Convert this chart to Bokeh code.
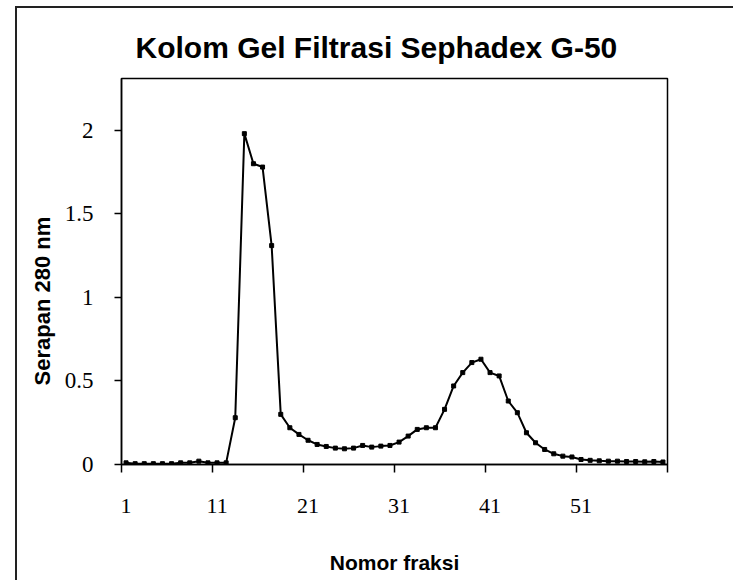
from bokeh.plotting import figure
from bokeh.models import Range1d, FixedTicker, Title, InlineStyleSheet
from bokeh.embed import file_html
from bokeh.resources import INLINE

# ---- data ----
fractions = list(range(1, 61))
absorbance = [
    0.010, 0.005, 0.005, 0.005, 0.005, 0.005, 0.010, 0.010, 0.020, 0.010,
    0.010, 0.010, 0.280, 1.980, 1.800, 1.780, 1.310, 0.300, 0.220, 0.180,
    0.145, 0.120, 0.108, 0.098, 0.094, 0.098, 0.114, 0.104, 0.110, 0.114,
    0.134, 0.170, 0.210, 0.220, 0.220, 0.330, 0.470, 0.550, 0.610, 0.630,
    0.550, 0.530, 0.380, 0.310, 0.190, 0.130, 0.090, 0.064, 0.050, 0.045,
    0.030, 0.025, 0.022, 0.020, 0.020, 0.018, 0.018, 0.016, 0.018, 0.015,
]
y_ticks = [0, 0.5, 1, 1.5, 2]
y_tick_labels = ["0", "0.5", "1", "1.5", "2"]
x_label_ticks = [1, 11, 21, 31, 41, 51]
x_tick_marks = [0.5, 10.5, 20.5, 30.5, 40.5, 50.5, 60.5]

title_text = "Kolom Gel Filtrasi Sephadex G-50"
x_title = "Nomor fraksi"
y_title = "Serapan 280 nm"

p = figure(
    width=733, height=580,
    output_backend="svg", toolbar_location=None,
    x_range=Range1d(0.5, 60.5), y_range=Range1d(0, 2.31),
    min_border_left=121, min_border_right=66,
    min_border_top=78, min_border_bottom=116,
    background_fill_color="white", border_fill_color="white",
)

# outer chart-area border (top and left edges, as in the scan)
p.stylesheets = [InlineStyleSheet(css="""
:host::before {
  content: "";
  position: absolute;
  left: 15px; top: 6px; right: 0px; bottom: 0px;
  border-left: 2px solid #222;
  border-top: 2px solid #222;
  pointer-events: none;
  z-index: 5;
}
""")]

p.title.text = title_text
p.title.align = "left"
p.title.offset = 14
p.title.text_font = "Liberation Sans"
p.title.text_font_style = "bold"
p.title.text_font_size = "30px"
p.title.text_color = "black"
p.title.standoff = 29

p.xgrid.visible = False
p.ygrid.visible = False
p.outline_line_color = "black"
p.outline_line_width = 1.5
p.outline_line_alpha = 1.0

# x axis: labels centred on categories, tick marks on category boundaries
xa = p.xaxis[0]
xa.ticker = FixedTicker(ticks=x_label_ticks, minor_ticks=x_tick_marks)
xa.major_tick_out = 0
xa.major_tick_in = 0
xa.minor_tick_out = 8
xa.minor_tick_in = 0
xa.minor_tick_line_color = "black"
xa.minor_tick_line_width = 1.5
xa.axis_line_color = "black"
xa.axis_line_width = 1.5
xa.major_label_text_font = "Liberation Serif"
xa.major_label_text_font_size = "22px"
xa.major_label_text_color = "black"
xa.major_label_standoff = 26
xa.axis_label = x_title
xa.axis_label_text_font = "Liberation Sans"
xa.axis_label_text_font_style = "bold"
xa.axis_label_text_font_size = "21px"
xa.axis_label_text_color = "black"
xa.axis_label_standoff = 35

# y axis
ya = p.yaxis[0]
ya.ticker = FixedTicker(ticks=y_ticks, minor_ticks=[])
ya.major_label_overrides = {t: s for t, s in zip(y_ticks, y_tick_labels)}
ya.major_tick_out = 7
ya.major_tick_in = 0
ya.major_tick_line_color = "black"
ya.major_tick_line_width = 1.5
ya.minor_tick_out = 0
ya.minor_tick_in = 0
ya.axis_line_color = "black"
ya.axis_line_width = 1.5
ya.major_label_text_font = "Liberation Serif"
ya.major_label_text_font_size = "23px"
ya.major_label_text_color = "black"
ya.major_label_standoff = 21

# y-axis title (left side title, offset downward like the reference)
p.add_layout(Title(
    text=y_title, align="left", offset=79, standoff=13,
    text_font="Liberation Sans", text_font_style="bold",
    text_font_size="22px", text_color="black",
), "left")

# series
p.line(fractions, absorbance, line_color="black", line_width=2)
p.scatter(fractions, absorbance, marker="square", size=4,
          fill_color="black", line_color="black")

open("out.html", "w").write(file_html(p, INLINE))
